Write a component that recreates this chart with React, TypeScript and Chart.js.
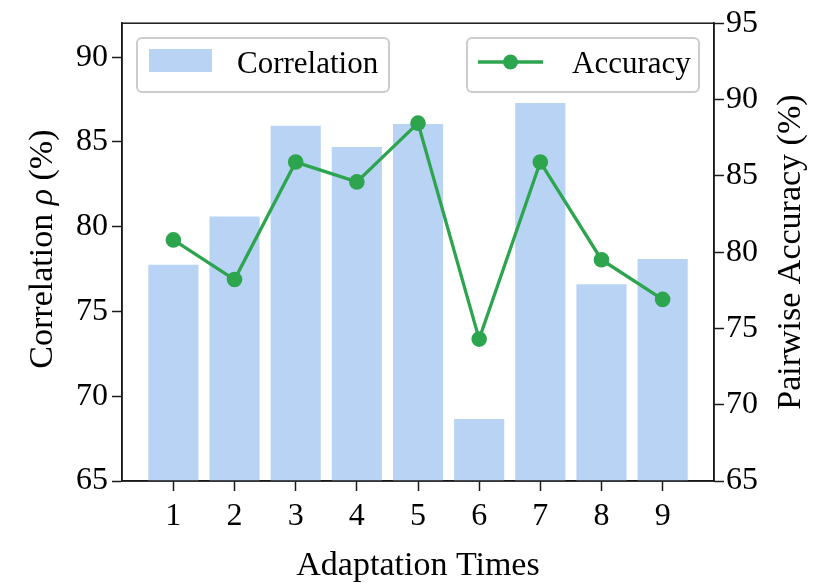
import React, { useEffect, useRef } from "react";
import { Chart, registerables } from "chart.js";

Chart.register(...registerables);

const categories = [1, 2, 3, 4, 5, 6, 7, 8, 9];
const correlation = [77.75, 80.6, 85.95, 84.7, 86.05, 68.65, 87.3, 76.6, 78.1];
const accuracy = [80.8, 78.2, 85.9, 84.6, 88.45, 74.3, 85.9, 79.5, 76.9];
const leftTicks = [65, 70, 75, 80, 85, 90];
const rightTicks = [65, 70, 75, 80, 85, 90, 95];

const FONT = '"Liberation Serif", "Times New Roman", serif';
const BAR_COLOR = "#b9d3f5";
const LINE_COLOR = "#2da44e";
const AXIS_COLOR = "#1a1a1a";

function roundRect(ctx: CanvasRenderingContext2D, x: number, y: number, w: number, h: number, r: number) {
  ctx.beginPath();
  ctx.moveTo(x + r, y);
  ctx.lineTo(x + w - r, y);
  ctx.arcTo(x + w, y, x + w, y + r, r);
  ctx.lineTo(x + w, y + h - r);
  ctx.arcTo(x + w, y + h, x + w - r, y + h, r);
  ctx.lineTo(x + r, y + h);
  ctx.arcTo(x, y + h, x, y + h - r, r);
  ctx.lineTo(x, y + r);
  ctx.arcTo(x, y, x + r, y, r);
  ctx.closePath();
}

const decorPlugin = {
  id: "decor",
  afterDraw(chart: any) {
    const ctx: CanvasRenderingContext2D = chart.ctx;
    const a = chart.chartArea;
    ctx.save();
    // frame
    ctx.strokeStyle = AXIS_COLOR;
    ctx.lineWidth = 1.5;
    ctx.strokeRect(a.left, a.top, a.right - a.left, a.bottom - a.top);

    // x title
    ctx.fillStyle = "#000";
    ctx.font = `34px ${FONT}`;
    ctx.textAlign = "center";
    ctx.textBaseline = "alphabetic";
    ctx.fillText("Adaptation Times", (a.left + a.right) / 2, 575);

    // left title with italic rho
    const cy = (a.top + a.bottom) / 2 - 3;
    const parts = [
      { t: "Correlation ", f: `34px ${FONT}` },
      { t: "ρ", f: `italic 34px ${FONT}` },
      { t: " (%)", f: `34px ${FONT}` },
    ];
    let total = 0;
    const widths = parts.map((p) => {
      ctx.font = p.f;
      const w = ctx.measureText(p.t).width;
      total += w;
      return w;
    });
    ctx.save();
    ctx.translate(52, cy);
    ctx.rotate(-Math.PI / 2);
    ctx.textAlign = "left";
    let x = -total / 2;
    parts.forEach((p, i) => {
      ctx.font = p.f;
      ctx.fillText(p.t, x, 0);
      x += widths[i];
    });
    ctx.restore();

    // right title
    ctx.save();
    ctx.translate(800, (a.top + a.bottom) / 2);
    ctx.rotate(-Math.PI / 2);
    ctx.font = `34px ${FONT}`;
    ctx.textAlign = "center";
    ctx.fillText("Pairwise Accuracy (%)", 0, 0);
    ctx.restore();

    // legends
    ctx.lineWidth = 2;
    ctx.strokeStyle = "rgba(204,204,204,1)";
    ctx.fillStyle = "rgba(255,255,255,0.8)";
    roundRect(ctx, 137, 38, 252, 54, 5);
    ctx.fill();
    ctx.stroke();
    roundRect(ctx, 467, 38, 232, 54, 5);
    ctx.fill();
    ctx.stroke();

    ctx.fillStyle = BAR_COLOR;
    ctx.fillRect(149, 49, 63, 23);
    ctx.strokeStyle = LINE_COLOR;
    ctx.lineWidth = 3.3;
    ctx.beginPath();
    ctx.moveTo(478, 62);
    ctx.lineTo(543, 62);
    ctx.stroke();
    ctx.fillStyle = LINE_COLOR;
    ctx.beginPath();
    ctx.arc(510.5, 62, 7.5, 0, Math.PI * 2);
    ctx.fill();

    ctx.fillStyle = "#000";
    ctx.font = `31px ${FONT}`;
    ctx.textAlign = "left";
    ctx.textBaseline = "alphabetic";
    ctx.fillText("Correlation", 237, 72.5);
    ctx.fillText("Accuracy", 572, 73);
    ctx.restore();
  },
};

export default function App() {
  const ref = useRef<HTMLCanvasElement | null>(null);
  useEffect(() => {
    if (!ref.current) return;
    const tickFont = { family: FONT, size: 32 };
    const chart = new Chart(ref.current, {
      type: "bar",
      data: {
        datasets: [
          {
            type: "line",
            label: "Accuracy",
            data: categories.map((c, i) => ({ x: c, y: accuracy[i] })),
            yAxisID: "y1",
            borderColor: LINE_COLOR,
            backgroundColor: LINE_COLOR,
            borderWidth: 3.3,
            pointRadius: 7.8,
            pointBorderWidth: 0,
            pointBackgroundColor: LINE_COLOR,
            tension: 0,
            order: 0,
          } as any,
          {
            type: "bar",
            label: "Correlation",
            data: categories.map((c, i) => ({ x: c, y: correlation[i] })),
            yAxisID: "y",
            backgroundColor: BAR_COLOR,
            borderWidth: 0,
            barPercentage: 0.82,
            categoryPercentage: 1,
            order: 1,
          } as any,
        ],
      },
      options: {
        animation: false,
        responsive: false,
        devicePixelRatio: 1,
        layout: { padding: { top: 22, left: 0, right: 0, bottom: 0 } },
        plugins: { legend: { display: false }, tooltip: { enabled: false } },
        scales: {
          x: {
            type: "linear",
            min: 0.16,
            max: 9.84,
            offset: false,
            afterFit: (s: any) => {
              s.height = 103;
            },
            afterBuildTicks: (s: any) => {
              s.ticks = categories.map((v) => ({ value: v }));
            },
            grid: { offset: false, drawOnChartArea: false, tickLength: 10, tickWidth: 1.5, tickColor: AXIS_COLOR },
            border: { display: true, color: AXIS_COLOR, width: 1.5 },
            ticks: { font: tickFont, color: "#000", padding: 6, maxRotation: 0, autoSkip: false, callback: (v: any) => String(v) },
          },
          y: {
            type: "linear",
            position: "left",
            min: 65,
            max: 92,
            afterFit: (s: any) => {
              s.width = 122;
            },
            afterBuildTicks: (s: any) => {
              s.ticks = leftTicks.map((v) => ({ value: v }));
            },
            grid: { drawOnChartArea: false, tickLength: 10, tickWidth: 1.5, tickColor: AXIS_COLOR },
            border: { display: true, color: AXIS_COLOR, width: 1.5 },
            ticks: { font: tickFont, color: "#000", padding: 4 },
          },
          y1: {
            type: "linear",
            position: "right",
            min: 65,
            max: 95,
            afterFit: (s: any) => {
              s.width = 105;
            },
            afterBuildTicks: (s: any) => {
              s.ticks = rightTicks.map((v) => ({ value: v }));
            },
            grid: { drawOnChartArea: false, tickLength: 10, tickWidth: 1.5, tickColor: AXIS_COLOR },
            border: { display: true, color: AXIS_COLOR, width: 1.5 },
            ticks: { font: tickFont, color: "#000", padding: 2 },
          },
        },
      },
      plugins: [decorPlugin],
    });
    return () => chart.destroy();
  }, []);
  return (
    <div style={{ position: "absolute", left: 0, top: 0, width: 819, height: 584, background: "#fff" }}>
      <canvas ref={ref} width={819} height={584} />
    </div>
  );
}
